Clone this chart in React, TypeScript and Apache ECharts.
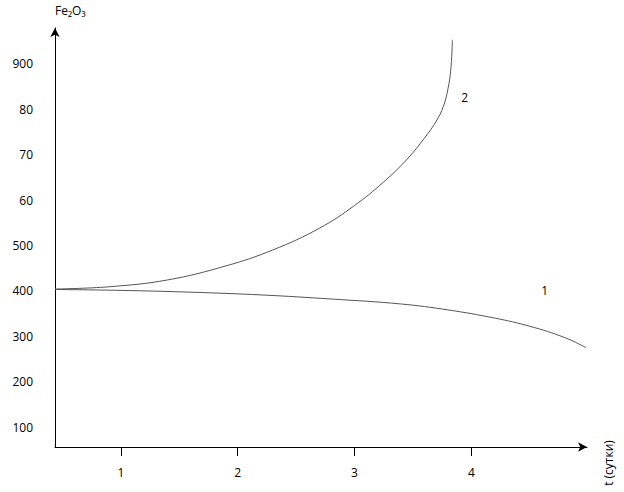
import React, { useEffect, useRef } from "react";
import * as echarts from "echarts";

// time axis (days)
const xTicks = [1, 2, 3, 4];
const xMin = 0.436;
const xMax = 4.99;

// y axis tick values and their printed labels (as in the original drawing)
const yTickValues = [100, 200, 300, 400, 500, 600, 700, 800, 900];
const yTickLabels = ["100", "200", "300", "400", "500", "60", "70", "80", "900"];
const yMin = 56;
const yMax = 979;

// curve 1
const curve1T = [0.436, 1.0, 1.6, 2.2, 2.8, 3.4, 3.8, 4.2, 4.5, 4.8, 4.98];
const curve1V = [403, 401, 397, 391, 382, 371, 358, 340, 322, 297, 275];

// curve 2
const curve2T = [0.436, 0.9, 1.4, 1.9, 2.3, 2.7, 3.0, 3.25, 3.45, 3.6, 3.7, 3.76, 3.8, 3.825, 3.838];
const curve2V = [404, 409, 424, 455, 490, 538, 588, 640, 690, 737, 774, 806, 845, 890, 953];

// curve number labels positions (data coords)
const label1 = [4.628, 400];
const label2 = [3.943, 825];

const FONT = "Open Sans";

export default function App() {
  const ref = useRef<HTMLDivElement>(null);
  useEffect(() => {
    if (!ref.current) return;
    document.body.style.margin = "0";
    const chart = echarts.init(ref.current, null, { renderer: "svg" });
    const mk = (t: number[], v: number[]) => t.map((x, i) => [x, v[i]]);
    const numLabel = (coord: number[], text: string) => ({
      symbol: "circle",
      symbolSize: 1,
      silent: true,
      itemStyle: { color: "rgba(0,0,0,0)" },
      label: {
        show: true,
        position: "inside",
        formatter: text,
        color: "#000",
        fontFamily: FONT,
        fontSize: 12,
      },
      data: [{ coord, value: text }],
    });
    chart.setOption({
      animation: false,
      backgroundColor: "#fff",
      grid: { left: 55, right: 37, top: 28, bottom: 45, containLabel: false },
      xAxis: {
        type: "value",
        min: xMin,
        max: xMax,
        splitLine: { show: false },
        axisLine: {
          show: true,
          lineStyle: { color: "#000", width: 1 },
          symbol: ["none", "arrow"],
          symbolSize: [7, 9],
        },
        axisTick: {
          show: true,
          customValues: xTicks,
          length: 9,
          lineStyle: { color: "#000" },
        },
        axisLabel: {
          customValues: xTicks,
          margin: 19,
          color: "#000",
          fontFamily: FONT,
          fontSize: 12,
        },
      },
      yAxis: {
        type: "value",
        min: yMin,
        max: yMax,
        name: "Fe₂O₃",
        nameLocation: "end",
        nameGap: 12,
        nameTextStyle: { color: "#000", fontFamily: FONT, fontSize: 12, align: "left", verticalAlign: "bottom" },
        splitLine: { show: false },
        axisLine: {
          show: true,
          lineStyle: { color: "#000", width: 1 },
          symbol: ["none", "arrow"],
          symbolSize: [7, 9],
        },
        axisTick: { show: false },
        axisLabel: {
          customValues: yTickValues,
          margin: 22,
          color: "#000",
          fontFamily: FONT,
          fontSize: 12,
          formatter: (v: number) => {
            const i = yTickValues.indexOf(Math.round(v));
            return i >= 0 ? yTickLabels[i] : "";
          },
        },
      },
      graphic: [
        {
          type: "text",
          x: 608,
          y: 463,
          rotation: Math.PI / 2,
          style: {
            text: "t (сутки)",
            fill: "#000",
            fontFamily: FONT,
            fontSize: 12,
            align: "center",
            verticalAlign: "middle",
          },
        },
      ],
      series: [
        {
          name: "1",
          type: "line",
          data: mk(curve1T, curve1V),
          smooth: 0.4,
          showSymbol: false,
          lineStyle: { color: "#555", width: 1 },
          markPoint: numLabel(label1, "1"),
        },
        {
          name: "2",
          type: "line",
          data: mk(curve2T, curve2V),
          smooth: 0.4,
          showSymbol: false,
          lineStyle: { color: "#555", width: 1 },
          markPoint: numLabel(label2, "2"),
        },
      ],
    });
    return () => chart.dispose();
  }, []);
  return <div ref={ref} style={{ width: 624, height: 492 }} />;
}
